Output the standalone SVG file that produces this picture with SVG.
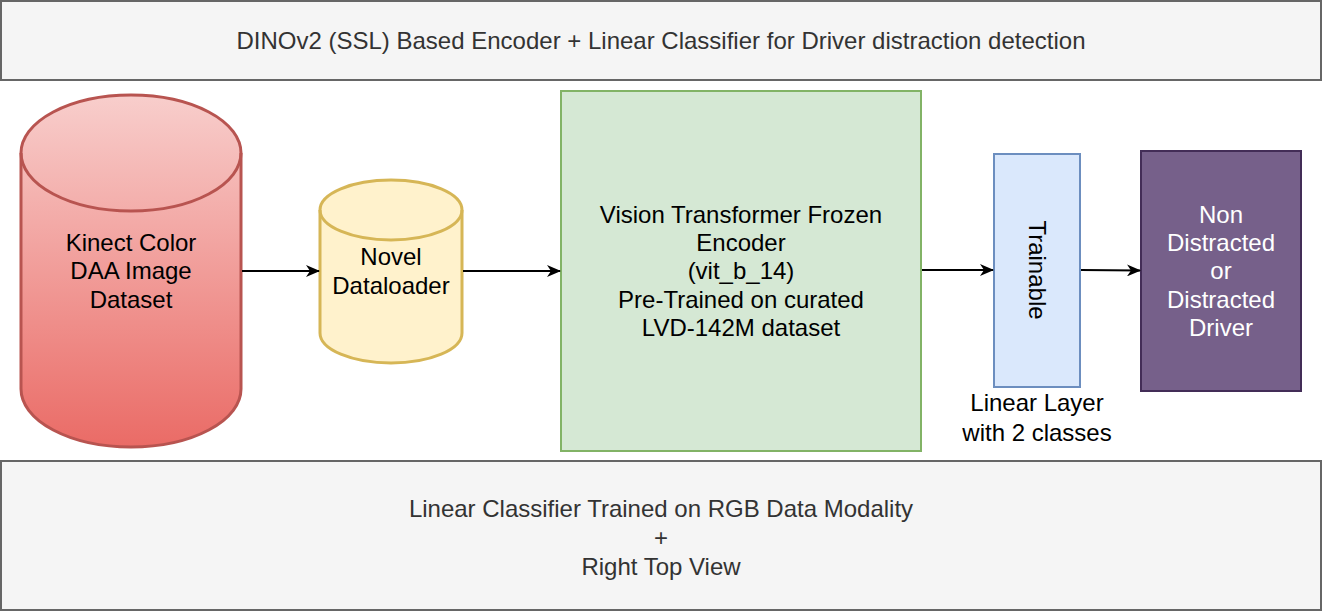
<svg xmlns="http://www.w3.org/2000/svg" width="1322" height="612" viewBox="0 0 1322 612">
<style>
text{font-family:"Liberation Sans",Arial,sans-serif;font-size:24px;text-anchor:middle;dominant-baseline:central;fill:#000}
.banner{fill:#f5f5f5;stroke:#666;stroke-width:2}
.btext{fill:#333}
.conn{stroke:#000;stroke-width:2;fill:none}
.w{fill:#fff}
</style>
<defs>
<linearGradient id="redg" x1="0" y1="0" x2="0" y2="1">
<stop offset="0" stop-color="#f8cecc"/>
<stop offset="1" stop-color="#ea6b66"/>
</linearGradient>
<marker id="arr" viewBox="0 0 14 12" refX="13" refY="6" markerWidth="14" markerHeight="12" markerUnits="userSpaceOnUse" orient="auto">
<path d="M0,0 L14,6 L0,12 L4,6 Z" fill="#000"/>
</marker>
</defs>
<g id="title">
<rect class="banner" x="1" y="1" width="1320" height="79"/>
<text class="btext" x="661" y="40">DINOv2 (SSL) Based Encoder + Linear Classifier for Driver distraction detection</text>
</g>
<g id="footer">
<rect class="banner" x="1" y="461" width="1320" height="149"/>
<text class="btext" x="661" y="508">Linear Classifier Trained on RGB Data Modality</text>
<text class="btext" x="661" y="537">+</text>
<text class="btext" x="661" y="566">Right Top View</text>
</g>
<g id="dataset">
<path d="M21,153 A110,58 0 0 1 241,153 L241,389 A110,58 0 0 1 21,389 Z" fill="url(#redg)" stroke="#b85450" stroke-width="3"/>
<path d="M21,153 A110,58 0 0 0 241,153" fill="none" stroke="#b85450" stroke-width="3"/>
<text x="131" y="242">Kinect Color</text>
<text x="131" y="270">DAA Image</text>
<text x="131" y="299">Dataset</text>
</g>
<g id="dataloader">
<path d="M320,210 A71,30 0 0 1 462,210 L462,333 A71,30 0 0 1 320,333 Z" fill="#fff2cc" stroke="#d6b656" stroke-width="3"/>
<path d="M320,210 A71,30 0 0 0 462,210" fill="none" stroke="#d6b656" stroke-width="3"/>
<text x="391" y="256">Novel</text>
<text x="391" y="285">Dataloader</text>
</g>
<g id="encoder">
<rect x="561" y="91" width="360" height="360" fill="#d5e8d4" stroke="#82b366" stroke-width="2"/>
<text x="741" y="214">Vision Transformer Frozen</text>
<text x="741" y="242">Encoder</text>
<text x="741" y="270">(vit_b_14)</text>
<text x="741" y="299">Pre-Trained on curated</text>
<text x="741" y="327">LVD-142M dataset</text>
</g>
<g id="linear">
<rect x="994" y="154" width="86" height="233" fill="#dae8fc" stroke="#6c8ebf" stroke-width="2"/>
<text transform="translate(1037,270) rotate(90)" x="0" y="0">Trainable</text>
<text x="1037" y="402">Linear Layer</text>
<text x="1037" y="432">with 2 classes</text>
</g>
<g id="output">
<rect x="1141" y="151" width="160" height="240" fill="#76608a" stroke="#432d57" stroke-width="2"/>
<text class="w" x="1221" y="214">Non</text>
<text class="w" x="1221" y="242">Distracted</text>
<text class="w" x="1221" y="270">or</text>
<text class="w" x="1221" y="299">Distracted</text>
<text class="w" x="1221" y="327">Driver</text>
</g>
<g id="connectors">
<line class="conn" x1="242" y1="271" x2="319" y2="271" marker-end="url(#arr)"/>
<line class="conn" x1="463" y1="271" x2="560" y2="271" marker-end="url(#arr)"/>
<line class="conn" x1="922" y1="270" x2="993" y2="270" marker-end="url(#arr)"/>
<line class="conn" x1="1081" y1="270" x2="1140" y2="270.5" marker-end="url(#arr)"/>
</g>
</svg>
